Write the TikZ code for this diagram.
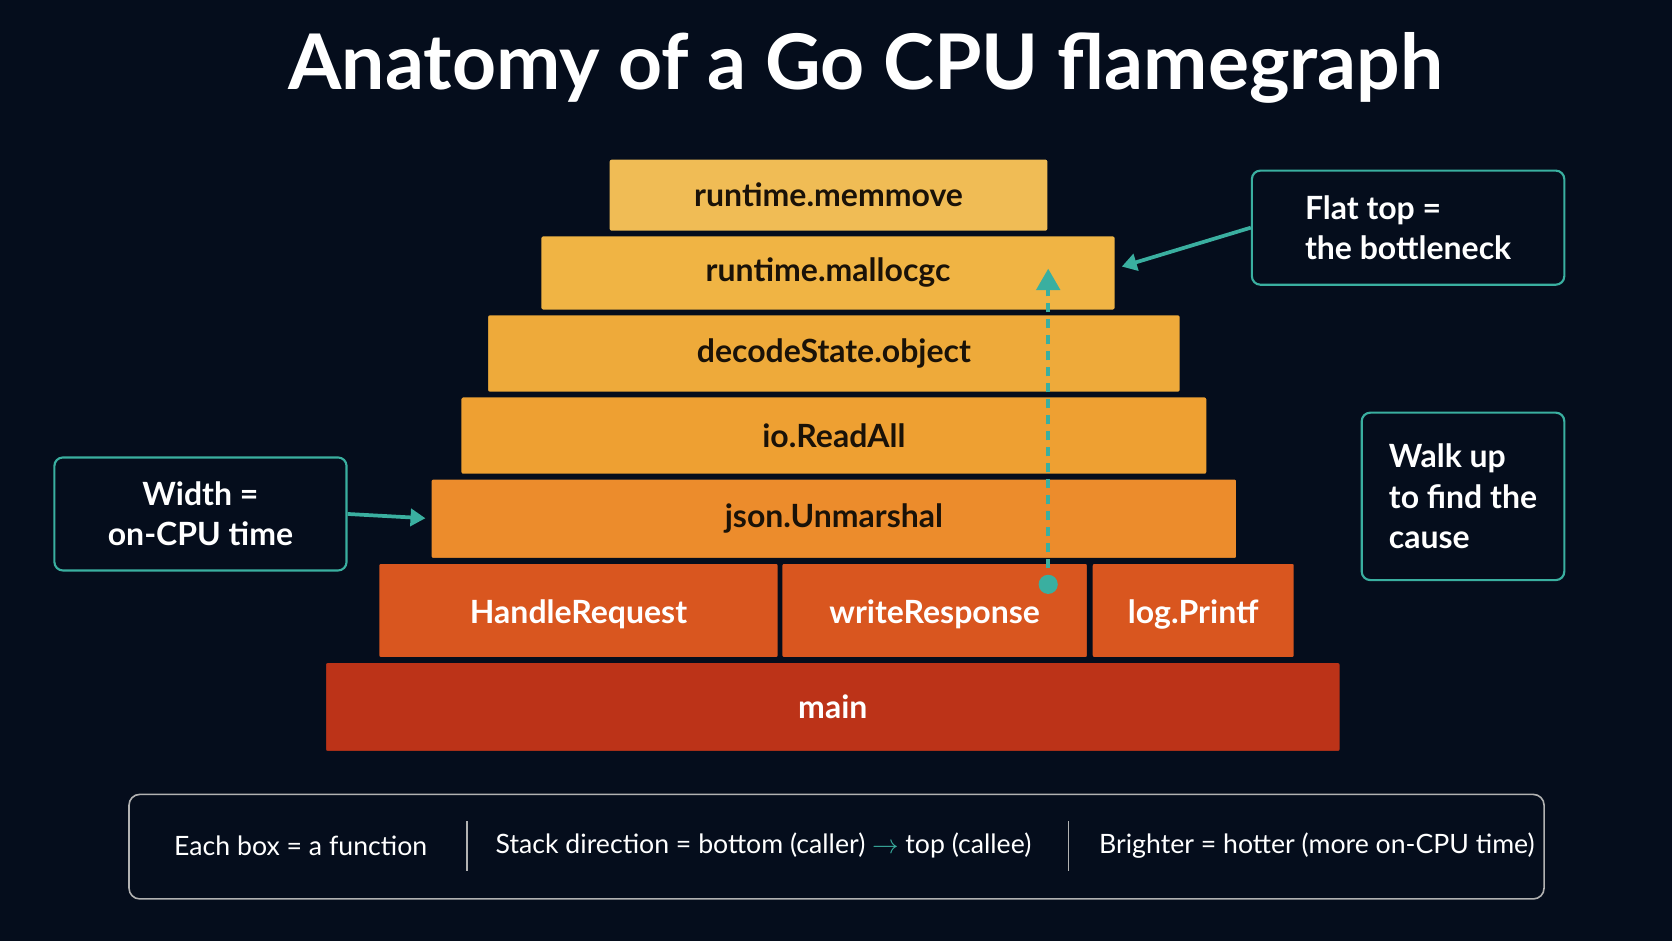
\documentclass[tikz,border=0pt]{standalone}
\usepackage{fontspec}
\setmainfont{Lato}
\usetikzlibrary{arrows.meta}
\definecolor{bg}{HTML}{050D1C}
\definecolor{teal}{HTML}{3AAFA0}
\definecolor{cA}{HTML}{F0BC55}
\definecolor{cB}{HTML}{F0B444}
\definecolor{cC}{HTML}{EEAA3A}
\definecolor{cD}{HTML}{EEA032}
\definecolor{cE}{HTML}{EC8C2C}
\definecolor{cF}{HTML}{D9561F}
\definecolor{cG}{HTML}{BC3318}
\definecolor{dk}{HTML}{1A1208}
\begin{document}
\begin{tikzpicture}[x=1pt,y=-1pt,
  fb/.style={draw=bg,line width=1.5pt,rounded corners=2pt,font=\fontsize{30}{34}\selectfont\bfseries},
  call/.style={draw=teal,line width=2pt,rounded corners=8pt,text=white,font=\fontsize{30}{38}\selectfont\bfseries,align=left},
  ar/.style={teal,line width=3.5pt,-{Triangle[length=14pt,width=16pt]}},
  bt/.style={text=white,font=\fontsize{25}{30}\selectfont}]
\fill[bg] (0,0) rectangle (1568,882);
\useasboundingbox (0,0) rectangle (1568,882);
\node[text=white,font=\fontsize{72}{80}\selectfont\bfseries] (title) at (812,64) {Anatomy of a Go CPU flamegraph};
\path[fb,fill=cA] (571,149) rectangle (983,217) node[midway,text=dk] (mm) {runtime.memmove};
\path[fb,fill=cB] (507,221) rectangle (1046,291) node[midway,text=dk] (ma) {runtime.mallocgc};
\path[fb,fill=cC] (457,295) rectangle (1107,368) node[midway,text=dk] (ds) {decodeState.object};
\path[fb,fill=cD] (432,372) rectangle (1132,445) node[midway,text=dk] (ra) {io.ReadAll};
\path[fb,fill=cE] (404,449) rectangle (1160,524) node[midway,text=dk] (ju) {json.Unmarshal};
\path[fb,fill=cF] (355,528) rectangle (730,617) node[midway,text=white,yshift=-4pt] (hr) {HandleRequest};
\path[fb,fill=cF] (733,528) rectangle (1020,617) node[midway,text=white,yshift=-4pt] (wr) {writeResponse};
\path[fb,fill=cF] (1024,528) rectangle (1214,617) node[midway,text=white,yshift=-4pt] (lp) {log.Printf};
\path[fb,fill=cG] (305,621) rectangle (1257,705) node[midway,text=white] (mn) {main};
\node[call,minimum width=293pt,minimum height=107pt] (ft) at (1320.5,213.5) {Flat top =\\the bottleneck};
\node[call,minimum width=274pt,minimum height=106pt,align=center] (wd) at (188,482) {Width =\\on-CPU time};
\node[call,minimum width=190pt,minimum height=157pt] (wu) at (1372,465.5) {Walk up\\to find the\\cause};
\coordinate (fta) at (1052,250);
\coordinate (wda) at (399,486);
\draw[ar] (ft.west) -- (fta);
\draw[ar] (wd.east) -- (wda);
\fill[teal] (983,548) circle (9pt) coordinate (dot);
\coordinate (top) at (983,252);
\draw[teal,line width=3.5pt,dash pattern=on 9pt off 6pt] (dot) -- (983,272);
\draw[teal,line width=3.5pt,-{Triangle[length=20pt,width=22pt]}] (983,274) -- (top);
\draw[draw=gray!60,line width=1.5pt,rounded corners=10pt] (121,745) rectangle (1448,843);
\node[bt] (b1) at (282,793) {Each box = a function};
\node[bt] (b2) at (716,793) {Stack direction = bottom (caller) {\color{teal}$\rightarrow$} top (callee)};
\node[bt] (b3) at (1235,793) {Brighter = hotter (more on-CPU time)};
\draw[gray!60,line width=1.5pt] (438,770) -- (438,817);
\draw[gray!60,line width=1.5pt] (1002,770) -- (1002,817);
\end{tikzpicture}
\end{document}
